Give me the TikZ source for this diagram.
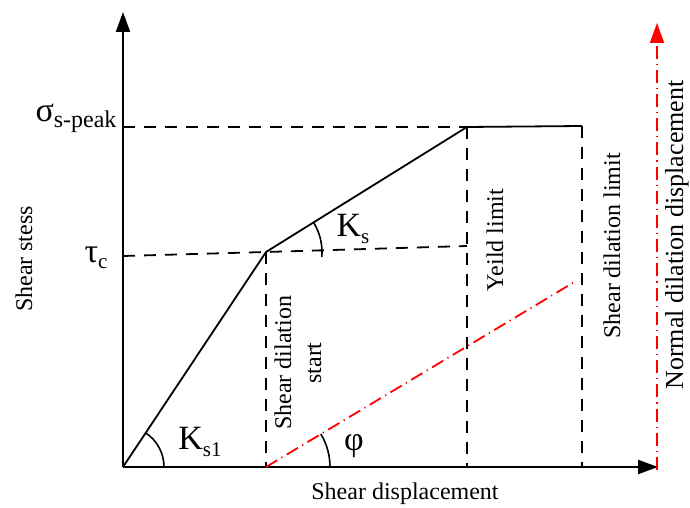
\documentclass[tikz,border=0pt]{standalone}
\usepackage{fontspec}
\setmainfont{Liberation Serif}
\usetikzlibrary{arrows.meta}
\newcommand{\sym}[3]{{\fontsize{#1}{#1}\selectfont #2}\raisebox{-0.55ex}{\fontsize{10.5}{10.5}\selectfont #3}}
\begin{document}
\begin{tikzpicture}[x=0.5pt,y=0.5pt,>={Triangle[length=10pt,width=7pt]},
  font=\fontsize{12}{15}\selectfont,
  ax/.style={line width=1.1pt},
  guide/.style={line width=0.9pt,dash pattern=on 6pt off 4.5pt},
  dil/.style={red,line width=0.9pt,dash pattern=on 6.5pt off 2.5pt on 0.6pt off 2.5pt},
  vlabel/.style={rotate=90,align=center}]
  \useasboundingbox (0,0) rectangle (690,508);
  % key points
  \coordinate (O) at (123,41);
  \coordinate (Ytop) at (123,496);
  \coordinate (Xend) at (658,41);
  \coordinate (A) at (266,256);
  \coordinate (B) at (467,381);
  \coordinate (C) at (582,382);
  \coordinate (Ts) at (123,252);
  \coordinate (Ty) at (467,262);
  \coordinate (Sp) at (123,381);
  \coordinate (Af) at (266,41);
  \coordinate (Bf) at (467,41);
  \coordinate (Cf) at (582,41);
  \coordinate (D) at (576,227);
  \coordinate (R0) at (657,38);
  \coordinate (Rtop) at (657,485);
  % axes
  \draw[->,ax](O)--(Ytop);
  \draw[->,ax](O)--(Xend);
  \draw[->,dil](R0)--(Rtop);
  % guides
  \draw[guide](Sp)--(B);
  \draw[guide](Ts)--(A)--(Ty);
  \draw[guide](A)--(Af);
  \draw[guide](B)--(Bf);
  \draw[guide](C)--(Cf);
  % curve
  \draw[line width=0.9pt](O)--(A)--(B)--(C);
  \draw[dil](Af)--(D);
  % angles
  \draw[line width=0.8pt](O)++(41,0) arc[start angle=0,end angle=56.4,radius=41];
  \draw[line width=0.8pt](A)++(-5:56) arc[start angle=-5,end angle=31.9,radius=56];
  \draw[line width=0.8pt](Af)++(64,0) arc[start angle=0,end angle=31,radius=64];
  % labels
  \node (speak) at (76,390){\sym{17}{σ}{\fontsize{12}{12}\selectfont s-peak}};
  \node (tauc) at (96,250){\sym{17}{τ}{c}};
  \node (ks1) at (200,66){\sym{17}{K}{s1}};
  \node (ks) at (353,279){\sym{17}{K}{s}};
  \node (phi) at (354,62){\fontsize{17}{17}\selectfont φ};
  \node (xlab) at (405,14){Shear displacement};
  \node[vlabel] (ylab) at (24,249){Shear stess};
  \node[vlabel] (start) at (298,145){Shear dilation\\start};
  \node[vlabel] (yield) at (495,268){Yeild limit};
  \node[vlabel] (dlim) at (612,262){Shear dilation limit};
  \node[vlabel,anchor=base,font=\fontsize{13}{15}\selectfont] (nlab) at (683,273){Normal dilation displacement};
\end{tikzpicture}
\end{document}
